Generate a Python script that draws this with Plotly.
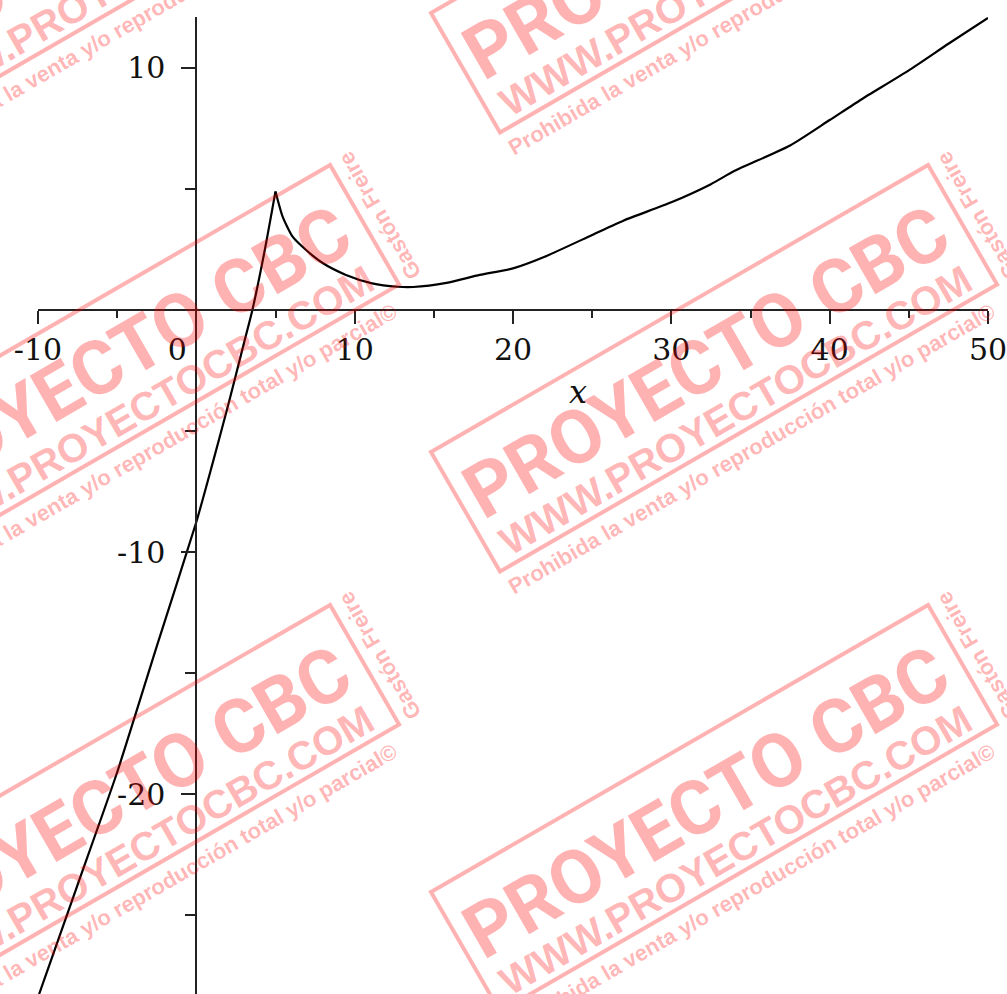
import math
import plotly.graph_objects as go

# ---------------- data ----------------
left_x = [-10, -7.5, -5, -2.5, 0, 1, 2, 3, 3.54, 4.3, 5]
left_y = [-28.4, -23.75, -19.1, -13.9, -8.76, -6.4, -3.96, -1.39, 0.0, 2.4, 4.9]

right_x = [5, 5.45, 6.08, 6.93, 8.0, 9.45, 11.1, 12.7, 13.7, 15.8, 17.9, 20, 22,
           25, 27, 30, 32.5, 34, 37.5, 40, 42, 45, 47.5, 50]
right_y = [4.9, 3.86, 3.03, 2.48, 1.93, 1.45, 1.1, 0.96, 0.95, 1.12, 1.45, 1.72, 2.2,
           3.1, 3.7, 4.45, 5.2, 5.75, 6.8, 7.85, 8.7, 9.9, 11.0, 12.07]

x_major = [-10, 0, 10, 20, 30, 40, 50]
x_labels = ["-10", "0\u00a0\u00a0\u00a0\u00a0", "10", "20", "30", "40", "50"]
x_minor = [-5, 5, 15, 25, 35, 45]
y_major = [-20, -10, 10]
y_labels = ["-20", "-10", "10"]
y_minor = [-25, -15, -5, 5]

X_RANGE = [-10, 50]
Y_RANGE = [-28.264, 12.107]

# ---------------- layout geometry ----------------
W, H = 1007, 994
ML, MR, MT, MB = 38, 19, 17, 0
PW, PH = W - ML - MR, H - MT - MB

AXIS = "#222222"
TXT = "#111111"
SERIF = "DejaVu Serif, Liberation Serif, serif"

fig = go.Figure()
for xs, ys in ((left_x, left_y), (right_x, right_y)):
    fig.add_trace(go.Scatter(x=xs, y=ys, mode="lines",
                             line=dict(color="black", width=2.2, shape="spline", smoothing=0.6),
                             hoverinfo="skip", showlegend=False))

xpos = (0 - Y_RANGE[0]) / (Y_RANGE[1] - Y_RANGE[0])
ypos = (0 - X_RANGE[0]) / (X_RANGE[1] - X_RANGE[0])

fig.update_layout(
    template="none",
    width=W, height=H, autosize=False,
    margin=dict(l=ML, r=MR, t=MT, b=MB, pad=0),
    paper_bgcolor="white", plot_bgcolor="white",
    showlegend=False,
    xaxis=dict(range=X_RANGE, domain=[0, 1], anchor="free", position=xpos,
               showline=True, linecolor=AXIS, linewidth=2,
               ticks="outside", ticklen=13, tickwidth=2, tickcolor=AXIS,
               tickmode="array", tickvals=x_major, ticktext=x_labels,
               tickfont=dict(family=SERIF, size=30, color=TXT),
               ticklabeloverflow="allow",
               minor=dict(tickmode="array", tickvals=x_minor, ticks="outside",
                          ticklen=7, tickwidth=2, tickcolor=AXIS),
               showgrid=False, zeroline=False, automargin=False, fixedrange=True),
    yaxis=dict(range=Y_RANGE, domain=[0, 1], anchor="free", position=ypos, side="left",
               showline=True, linecolor=AXIS, linewidth=2,
               ticks="outside", ticklen=14, tickwidth=2, tickcolor=AXIS,
               tickmode="array", tickvals=y_major, ticktext=y_labels,
               tickfont=dict(family=SERIF, size=30, color=TXT),
               ticklabelstandoff=10, ticklabeloverflow="allow",
               minor=dict(tickmode="array", tickvals=y_minor, ticks="outside",
                          ticklen=10, tickwidth=2, tickcolor=AXIS),
               showgrid=False, zeroline=False, automargin=False, fixedrange=True),
)

fig.add_annotation(x=24.1, y=-3.39, xref="x", yref="y", text="<i>x</i>",
                   showarrow=False, xanchor="center", yanchor="middle",
                   font=dict(family=SERIF, size=32, color=TXT))

# ---------------- watermark stamps ----------------
PINK = "rgba(255,0,0,0.30)"
ANG = math.radians(30)
U = (math.cos(ANG), -math.sin(ANG))
V = (math.sin(ANG), math.cos(ANG))
RECT_L, RECT_H = 574, 138
SANS = "Liberation Sans, Arial, sans-serif"


def to_paper(px, py):
    return (px - ML) / PW, (H - MB - py) / PH


def frame_pt(ax, ay, s, t):
    return ax + s * U[0] + t * V[0], ay + s * U[1] + t * V[1]


stamp_texts = [
    ("PROYECTO CBC", 283, 60, 75, "Roboto, Liberation Sans, sans-serif", -30),
    ("WWW.PROYECTOCBC.COM", 285, 116, 40, SANS, -30),
    ("Prohibida la venta y/o reproducción total y/o parcial©", 280, 158, 22, SANS, -30),
    ("Gastón Freire", 592, 69, 22, SANS, -120),
]

origins = []
for dx in (0, -598):
    for dy in (-439, 0, 440):
        origins.append((431 + dx, 452 + dy))

shapes = []
for ax, ay in origins:
    corners = [frame_pt(ax, ay, s, t) for s, t in ((0, 0), (RECT_L, 0), (RECT_L, RECT_H), (0, RECT_H))]
    pcs = [to_paper(*c) for c in corners]
    path = "M " + " L ".join(f"{p[0]:.5f},{p[1]:.5f}" for p in pcs) + " Z"
    shapes.append(dict(type="path", xref="paper", yref="paper", path=path,
                       line=dict(color=PINK, width=4), fillcolor="rgba(0,0,0,0)", layer="above"))
    for text, s, t, size, fam, ang in stamp_texts:
        cx, cy = to_paper(*frame_pt(ax, ay, s, t))
        fig.add_annotation(x=cx, y=cy, xref="paper", yref="paper", text=text,
                           showarrow=False, xanchor="center", yanchor="middle",
                           textangle=ang,
                           font=dict(family=fam, size=size, color=PINK, weight=700))

fig.update_layout(shapes=shapes)

fig.write_html("out.html", config={"displayModeBar": False},
               post_script="document.body.style.margin='0px';document.body.style.overflow='hidden';")
